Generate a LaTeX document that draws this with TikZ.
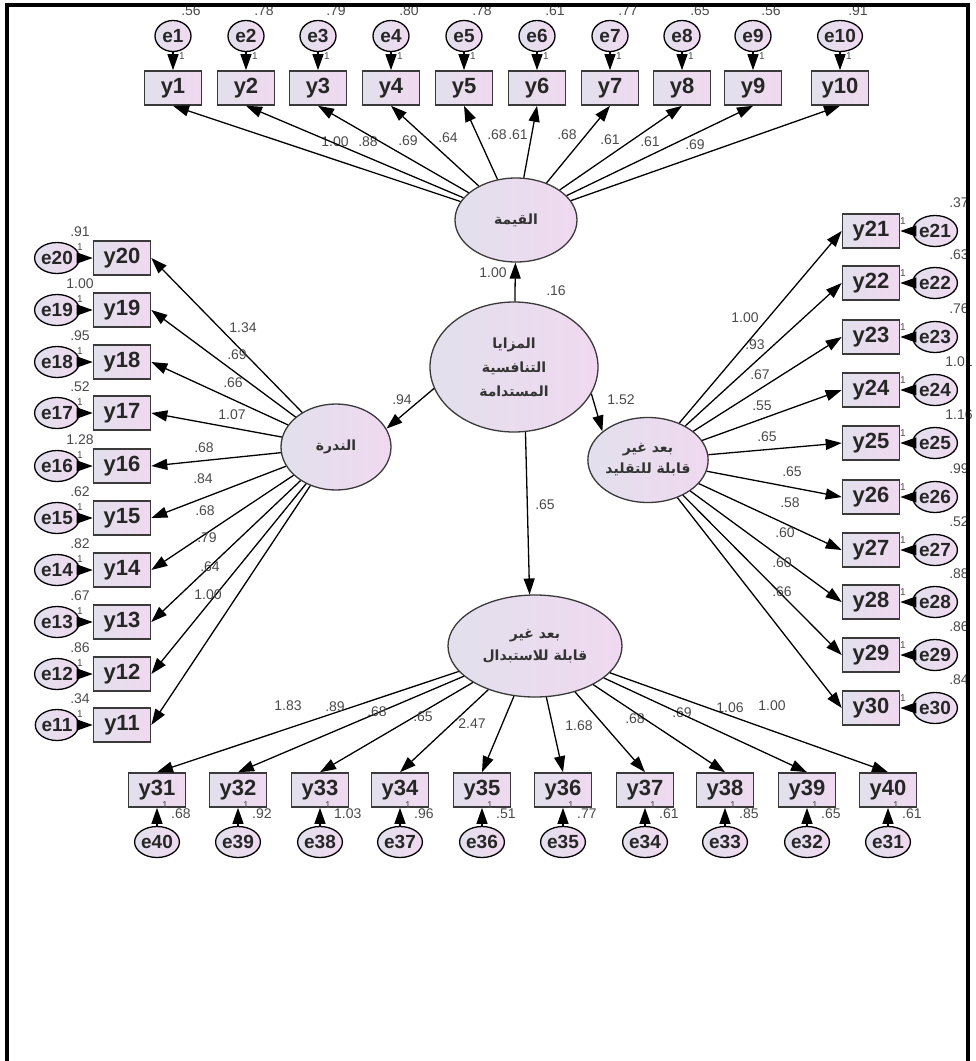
\documentclass[tikz,border=0pt]{standalone}
\usepackage{fontspec}
\setmainfont{Liberation Sans}
\newfontfamily\arabicfont[Script=Arabic]{DejaVu Sans}
\TeXXeTstate=1
\usetikzlibrary{arrows.meta, shapes.geometric}
\definecolor{lavL}{HTML}{E2E0EC}
\definecolor{lavR}{HTML}{F0D9F0}
\definecolor{rim}{HTML}{3A3A3A}
\definecolor{numgray}{HTML}{4A4A4A}
\tikzset{
  obs/.style={
    rectangle, draw=rim, line width=1.6pt, minimum width=57pt, minimum height=34pt,
    inner sep=0pt, left color=lavL, right color=lavR,
    font=\fontsize{22}{24}\selectfont\bfseries, text=black!85
  },
  err/.style={
    ellipse, draw=black, line width=1.3pt, minimum width=36pt, minimum height=31pt,
    inner sep=0pt, left color=lavL, right color=lavR,
    font=\fontsize{19}{21}\selectfont\bfseries, text=black!85
  },
  latent/.style={
    ellipse, draw=rim, line width=1.3pt, inner sep=0pt, align=center,
    left color=lavL, right color=lavR,
    font=\arabicfont\bfseries\fontsize{14}{24}\selectfont, text=black!80
  },
  path/.style={-{Triangle[length=16pt,width=11pt]}, line width=1.3pt},
  coef/.style={font=\fontsize{14}{15}\selectfont, text=numgray, inner sep=0pt},
  one/.style={font=\fontsize{10}{11}\selectfont, text=black!70, inner sep=0pt}
}

\begin{document}
\begin{tikzpicture}[x=1pt, y=-1pt]
\useasboundingbox (0,0) rectangle (976,1061);

\node[latent, minimum width=168pt, minimum height=130pt] (mazaya) at (514,367)
  {\beginR المزايا\endR\\\beginR التنافسية\endR\\\beginR المستدامة\endR};
\node[latent, minimum width=122pt, minimum height=84pt] (qima) at (516,220) {\beginR القيمة\endR};
\node[latent, minimum width=110pt, minimum height=86pt] (nadra) at (336,447) {\beginR الندرة\endR};
\node[latent, minimum width=120pt, minimum height=85pt, font=\arabicfont\bfseries\fontsize{14}{21}\selectfont] (taqlid) at (648,460)
  {\beginR بعد غير\endR\\\beginR قابلة للتقليد\endR};
\node[latent, minimum width=174pt, minimum height=102pt, font=\arabicfont\bfseries\fontsize{14}{22}\selectfont] (istibdal) at (535,646)
  {\beginR بعد غير\endR\\\beginR قابلة للاستبدال\endR};

\draw[path] (mazaya) -- (qima);
\draw[path] (mazaya.195) -- (nadra.20);
\draw[path] (mazaya.-19) -- (taqlid.148);
\draw[path] (mazaya.-80) -- (istibdal.96);
\node[coef] (l1) at (493,273) {1.00};
\node[coef] (l2) at (556,291) {.16};
\node[coef] (l3) at (402,400) {.94};
\node[coef] (l4) at (621,400) {1.52};
\node[coef] (l5) at (545,505) {.65};

\foreach \i/\x/\v/\w/\lx/\ly in {1/173/.56/1.00/335/142, 2/246/.78/.88/368/142,
    3/318/.79/.69/408/141, 4/391/.80/.64/448/138, 5/464/.78/.68/497/135,
    6/537/.61/.61/518/135, 7/610/.77/.68/567/135, 8/682/.65/.61/610/140,
    9/753/.56/.61/650/142, 10/840/.91/.69/695/145} {
  \node[obs] (y\i) at (\x,88) {y\i};
  \node[err] (e\i) at (\x,36) {e\i};
  \draw[path] (e\i) -- (y\i);
  \draw[path] (qima) -- (y\i.south);
  \node[coef] (w\i) at (\lx,\ly) {\w};
  \node[coef] (v\i) at (\x+18,11) {\v};
  \node[one] (o\i) at (\x+9,56) {1};
}

\foreach \i/\y/\v/\w/\lx/\ly in {20/258/.91/1.34/243/328, 19/310/1.00/.69/237/355,
    18/362/.95/.66/233/383, 17/413/.52/1.07/232/415, 16/466/1.28/.68/204/448,
    15/518/.62/.84/203/479, 14/570/.82/.68/205/511, 13/622/.67/.79/207/538,
    12/674/.86/.64/210/567, 11/725/.34/1.00/208/595} {
  \node[obs] (y\i) at (122,\y) {y\i};
  \node[err] (e\i) at (57,\y) {e\i};
  \draw[path] (e\i) -- (y\i);
  \draw[path] (nadra) -- (y\i.east);
  \node[coef] (w\i) at (\lx,\ly) {\w};
  \node[coef] (v\i) at (80,\y-26) {\v};
  \node[one] (o\i) at (80,\y-11) {1};
}

\foreach \i/\y/\v/\w/\lx/\ly in {21/231/.37/1.00/745/318, 22/283/.63/.93/755/345,
    23/337/.76/.67/760/375, 24/390/1.01/.55/762/406, 25/443/1.16/.65/767/437,
    26/497/.99/.65/792/472, 27/550/.52/.58/790/503, 28/602/.88/.60/785/533,
    29/655/.86/.60/782/563, 30/708/.84/.66/782/592} {
  \node[obs] (y\i) at (871,\y) {y\i};
  \node[err] (e\i) at (935,\y) {e\i};
  \draw[path] (e\i) -- (y\i);
  \draw[path] (taqlid) -- (y\i.west);
  \node[coef] (w\i) at (\lx,\ly) {\w};
  \node[coef] (v\i) at (959,\y-28) {\v};
  \node[one] (o\i) at (903,\y-10) {1};
}

\foreach \i/\x/\e/\v/\w/\lx/\ly in {31/157/40/.68/1.83/288/706, 32/238/39/.92/.89/335/707,
    33/320/38/1.03/.68/377/712, 34/400/37/.96/.65/423/717, 35/482/36/.51/2.47/472/724,
    36/563/35/.77/1.68/579/726, 37/645/34/.61/.68/635/719, 38/725/33/.85/.69/682/713,
    39/807/32/.65/1.06/730/708, 40/888/31/.61/1.00/772/706} {
  \node[obs] (y\i) at (\x,790) {y\i};
  \node[err] (e\e) at (\x,842) {e\e};
  \draw[path] (e\e) -- (y\i);
  \draw[path] (istibdal) -- (y\i.north);
  \node[coef] (w\i) at (\lx,\ly) {\w};
  \node[coef, anchor=west] (v\i) at (\x+14,814) {\v};
  \node[one] (o\i) at (\x+8,805) {1};
}

\draw[line width=4.5pt] (7,1061) -- (7,5) -- (968,5) -- (968,1061);
\end{tikzpicture}
\end{document}
